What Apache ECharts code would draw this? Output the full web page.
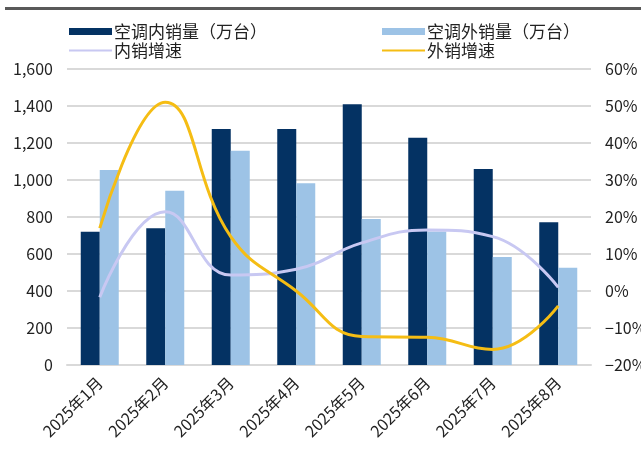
<!DOCTYPE html>
<html>
<head>
<meta charset="utf-8">
<script src="https://cdn.jsdelivr.net/npm/echarts@6/dist/echarts.min.js"></script>
<style>html,body{margin:0;padding:0;background:#fff;}#c{width:641px;height:454px;}</style>
</head>
<body>
<div id="c"></div>
<script>
const categories = ['2025年1月','2025年2月','2025年3月','2025年4月','2025年5月','2025年6月','2025年7月','2025年8月'];
const domesticSales = [720, 739, 1276, 1276, 1409, 1229, 1059, 771];
const exportSales = [1054, 942, 1158, 982, 789, 722, 584, 526];
const domesticGrowth = [-1.7, 21.4, 4.3, 5.9, 13.0, 16.5, 14.7, 1.0];
const exportGrowth = [17.0, 51.0, 14.7, 0.0, -12.3, -12.5, -15.8, -4.0];
const leftTicks = {min: 0, max: 1600, interval: 200};
const rightTicks = {min: -20, max: 60, interval: 10};

const FONT = '"Noto Sans CJK SC", "Noto Sans", sans-serif';
const LINE_ICON = 'path://M0,0H43V2.2H0Z';
const chart = echarts.init(document.getElementById('c'), null, {renderer: 'canvas'});
const fmtNum = v => v >= 1000 ? Math.floor(v/1000) + ',' + String(v%1000).padStart(3,'0') : String(v);
chart.setOption({
  animation: false,
  backgroundColor: '#fff',
  textStyle: {fontFamily: FONT},
  graphic: [{type: 'rect', shape: {x: 5, y: 7, width: 636, height: 3}, style: {fill: '#595959'}}],
  legend: [
    {left: 64, top: 18, orient: 'vertical', itemGap: 2, itemWidth: 43, itemHeight: 7,
     textStyle: {fontSize: 17, color: '#222', fontFamily: FONT, padding: [0,0,0,-3]},
     data: [{name: '空调内销量（万台）', icon: 'rect'}, {name: '内销增速', icon: LINE_ICON}]},
    {left: 377, top: 18, orient: 'vertical', itemGap: 2, itemWidth: 43, itemHeight: 7,
     textStyle: {fontSize: 17, color: '#222', fontFamily: FONT, padding: [0,0,0,-3]},
     data: [{name: '空调外销量（万台）', icon: 'rect'}, {name: '外销增速', icon: LINE_ICON}]}
  ],
  grid: {left: 67, right: 50, top: 69, bottom: 89, containLabel: false, outerBoundsMode: 'none'},
  xAxis: {
    type: 'category', data: categories,
    axisLine: {show: true, lineStyle: {color: '#d9d9d9', width: 2}},
    axisTick: {show: false},
    axisLabel: {rotate: 45, margin: 15, fontSize: 16, color: '#222', fontFamily: FONT, interval: 0}
  },
  yAxis: [
    {type: 'value', min: leftTicks.min, max: leftTicks.max, interval: leftTicks.interval,
     axisLine: {show: false}, axisTick: {show: false},
     splitLine: {lineStyle: {color: '#d9d9d9', width: 2}},
     axisLabel: {margin: 14, fontSize: 16, color: '#222', fontFamily: FONT, formatter: fmtNum}},
    {type: 'value', min: rightTicks.min, max: rightTicks.max, interval: rightTicks.interval,
     axisLine: {show: false}, axisTick: {show: false}, splitLine: {show: false},
     axisLabel: {margin: 14, fontSize: 16, color: '#222', fontFamily: FONT,
       formatter: v => (v < 0 ? '−' + Math.abs(v) : v) + '%'}}
  ],
  series: [
    {name: '空调内销量（万台）', type: 'bar', data: domesticSales, barWidth: 19, barGap: '0%',
     itemStyle: {color: '#043263'}},
    {name: '空调外销量（万台）', type: 'bar', data: exportSales, barWidth: 19, barGap: '0%',
     itemStyle: {color: '#9dc3e6'}},
    {name: '内销增速', type: 'line', yAxisIndex: 1, data: domesticGrowth, smooth: 0.45,
     symbol: 'none', lineStyle: {color: '#c8c8f2', width: 3}, itemStyle: {color: '#c8c8f2'}},
    {name: '外销增速', type: 'line', yAxisIndex: 1, data: exportGrowth, smooth: 0.45,
     symbol: 'none', lineStyle: {color: '#f5bd14', width: 3}, itemStyle: {color: '#f5bd14'}}
  ]
});
</script>
</body>
</html>
